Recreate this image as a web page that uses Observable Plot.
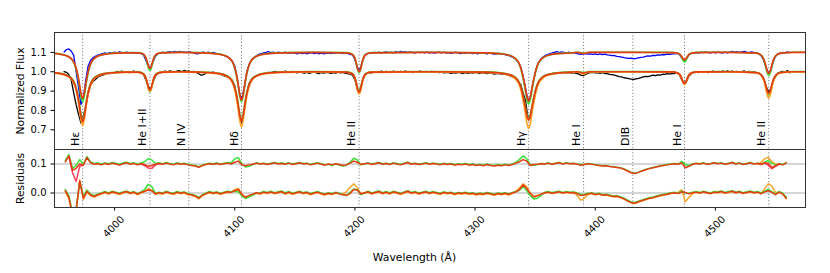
<!DOCTYPE html>
<html><head><meta charset="utf-8">
<script src="https://cdn.jsdelivr.net/npm/d3@7"></script>
<script src="https://cdn.jsdelivr.net/npm/@observablehq/plot@0.6"></script>
<style>
body{margin:0;background:#fff;}
#chart{position:relative;width:830px;height:273px;font-family:"DejaVu Sans",sans-serif;}
#chart svg{display:block;}
</style></head><body><div id="chart"></div>
<script>
// ---------- observed spectra (sampled every 2 Å from 3958 Å) ----------
const obsStart = 3958, obsStep = 2;
const obsLower = [
1.001,0.997,0.985,0.955,0.89,0.83,0.78,0.735,0.77,0.82,
0.885,0.93,0.95,0.96,0.972,0.978,0.983,0.987,0.992,0.990,
0.996,0.993,1.002,0.998,1.003,0.997,1.001,0.995,0.999,1.004,
0.998,0.997,0.993,0.987,0.958,0.925,0.908,0.945,0.978,0.99,
0.994,0.998,1.003,0.999,1.005,1.001,0.997,1.004,1.006,1.0,
1.007,1.002,1.004,0.998,1.002,0.996,0.99,0.982,0.985,0.993,
0.997,0.995,0.998,0.993,0.99,0.986,0.982,0.976,0.974,0.966,
0.955,0.928,0.855,0.77,0.735,0.80,0.885,0.94,0.962,0.972,
0.978,0.983,0.988,0.99,0.993,0.997,0.995,0.999,1.002,0.998,
1.001,0.997,1.003,0.999,0.996,1.002,0.998,0.994,0.999,0.996,
0.993,0.997,0.992,0.995,0.999,0.994,0.99,0.996,0.993,0.997,
0.995,0.991,0.996,0.993,0.998,0.994,0.997,0.992,0.99,0.988,
0.982,0.958,0.91,0.902,0.945,0.978,0.992,0.996,0.994,0.998,
1.001,0.997,1.003,0.998,1.002,0.999,0.996,1.003,1.0,0.997,
1.002,0.998,1.004,0.999,1.001,0.996,1.0,0.998,1.003,0.999,
0.997,1.001,0.998,1.002,0.997,0.999,0.995,0.998,0.994,0.997,
0.995,0.992,0.996,0.993,0.997,0.994,0.991,0.995,0.992,0.996,
0.993,0.997,0.994,0.991,0.995,0.993,0.99,0.994,0.992,0.988,
0.99,0.991,0.988,0.989,0.985,0.982,0.976,0.972,0.962,0.945,
0.935,0.89,0.85,0.765,0.762,0.825,0.885,0.93,0.958,0.97,
0.98,0.984,0.988,0.99,0.993,0.991,0.995,0.993,0.997,0.994,
0.996,0.993,0.995,0.992,0.989,0.983,0.98,0.986,0.993,0.995,
0.997,0.994,0.996,0.992,0.995,0.991,0.99,0.987,0.985,0.982,
0.979,0.975,0.973,0.969,0.967,0.965,0.962,0.96,0.963,0.966,
0.97,0.973,0.976,0.975,0.979,0.982,0.98,0.984,0.983,0.987,
0.986,0.99,0.988,0.992,0.99,0.993,0.985,0.958,0.943,0.95,
0.978,0.99,0.995,0.998,0.996,1.001,0.997,1.0,0.996,0.999,
1.003,0.998,1.002,0.997,1.004,1.0,1.005,0.999,1.003,0.998,
1.002,0.997,1.001,1.004,0.999,1.002,0.997,1.0,0.996,0.992,
0.982,0.962,0.93,0.895,0.91,0.95,0.975,0.993,0.998,1.002,
0.998,1.006,0.995];
const obsUpper = [
1.102,1.115,1.118,1.106,1.085,1.0,0.92,0.83,0.865,0.955,
1.03,1.058,1.072,1.08,1.086,1.09,1.094,1.097,1.094,1.099,
1.096,1.101,1.098,1.103,1.099,1.097,1.102,1.098,1.1,1.096,
1.098,1.097,1.094,1.088,1.06,1.028,1.02,1.052,1.08,1.092,
1.097,1.101,1.098,1.102,1.104,1.1,1.106,1.102,1.105,1.101,
1.103,1.099,1.104,1.1,1.097,1.092,1.094,1.099,1.102,1.098,
1.101,1.097,1.1,1.096,1.093,1.09,1.087,1.082,1.076,1.066,
1.056,1.03,0.97,0.888,0.86,0.925,0.995,1.04,1.062,1.074,
1.082,1.09,1.094,1.097,1.1,1.104,1.099,1.102,1.098,1.101,
1.099,1.096,1.101,1.097,1.095,1.099,1.096,1.093,1.097,1.094,
1.097,1.093,1.096,1.099,1.094,1.097,1.093,1.096,1.092,1.095,
1.097,1.094,1.098,1.095,1.099,1.096,1.094,1.098,1.095,1.09,
1.088,1.062,1.022,1.008,1.048,1.082,1.094,1.098,1.096,1.1,
1.098,1.101,1.097,1.1,1.103,1.099,1.102,1.098,1.104,1.1,
1.106,1.101,1.104,1.099,1.103,1.1,1.097,1.102,1.099,1.101,
1.098,1.101,1.097,1.1,1.096,1.099,1.102,1.098,1.101,1.097,
1.099,1.095,1.098,1.101,1.097,1.094,1.098,1.095,1.099,1.096,
1.094,1.097,1.093,1.096,1.099,1.095,1.092,1.096,1.094,1.091,
1.093,1.095,1.09,1.091,1.086,1.084,1.078,1.073,1.063,1.048,
1.025,0.978,0.915,0.852,0.87,0.932,0.993,1.036,1.06,1.074,
1.082,1.089,1.093,1.097,1.1,1.104,1.099,1.103,1.1,1.097,
1.101,1.097,1.099,1.095,1.093,1.09,1.092,1.094,1.091,1.093,
1.09,1.093,1.089,1.092,1.088,1.091,1.087,1.086,1.083,1.084,
1.08,1.078,1.076,1.073,1.071,1.069,1.07,1.067,1.069,1.072,
1.074,1.076,1.079,1.082,1.081,1.085,1.084,1.087,1.086,1.089,
1.088,1.091,1.09,1.093,1.092,1.095,1.09,1.07,1.058,1.066,
1.088,1.096,1.098,1.1,1.097,1.101,1.099,1.103,1.1,1.097,
1.101,1.098,1.102,1.099,1.097,1.101,1.098,1.102,1.105,1.101,
1.104,1.1,1.103,1.106,1.102,1.099,1.103,1.1,1.097,1.094,
1.083,1.062,1.028,0.993,1.004,1.048,1.08,1.093,1.097,1.1,
1.098,1.103,1.099];

// ---------- model spectra ----------
const modelWave = [
3950,3955.4,3960.4,3963.4,3965.4,3967.4,3968.9,3970.4,3971.9,3973.4,3974.9,3976.4,3977.9,3979.4,3981.4,3983.4,3986.4,3991.4,3998.4,4008.4,
4019.4,4023.4,4025.4,4026.4,4027.4,4028.4,4029.4,4030.4,4031.4,4032.4,4033.4,4035.4,4039.4,
4055,4070.6,
4080.6,4087.6,4092.6,4095.6,4097.6,4099.6,4101.1,4102.6,4104.1,4105.6,4107.1,4108.6,4110.1,4111.6,4113.6,4115.6,4118.6,4123.6,4130.6,4140.6,
4165,
4193.5,4197.5,4199.5,4200.5,4201.5,4202.5,4203.5,4204.5,4205.5,4206.5,4207.5,4209.5,4213.5,
4260,4309.6,
4319.6,4326.6,4331.6,4334.6,4336.6,4338.6,4340.1,4341.6,4343.1,4344.6,4346.1,4347.6,4349.1,4350.6,4352.6,4354.6,4357.6,4362.6,4369.6,4379.6,
4385.3,4388.3,4390.3,4392.3,4395.3,
4430,4464.3,
4468.3,4470.3,4471.3,4472.3,4473.3,4474.3,4475.3,4476.3,4477.3,4478.3,4480.3,4484.3,
4510,4534.4,
4538.4,4540.4,4541.4,4542.4,4543.4,4544.4,4545.4,4546.4,4547.4,4548.4,4550.4,4554.4,
4565,4575];
const modelLowerRed = [
0.994,0.990,0.981,0.969,0.954,0.925,0.889,0.837,0.776,0.742,0.776,0.837,0.889,0.925,0.954,0.969,0.981,0.990,0.995,0.998,
0.998,0.991,0.978,0.962,0.938,0.915,0.905,0.915,0.938,0.962,0.978,0.991,0.998,
1.0,0.998,
0.995,0.990,0.981,0.969,0.954,0.926,0.890,0.839,0.778,0.745,0.778,0.839,0.890,0.926,0.954,0.969,0.981,0.990,0.995,0.998,
1.0,
0.998,0.991,0.976,0.958,0.932,0.906,0.895,0.906,0.932,0.958,0.976,0.991,0.998,
1.0,0.998,
0.994,0.988,0.978,0.963,0.945,0.910,0.870,0.825,0.775,0.750,0.775,0.825,0.870,0.910,0.945,0.963,0.978,0.988,0.994,0.998,
1.0,0.996,0.993,0.996,1.0,
1.0,0.999,
0.995,0.986,0.976,0.961,0.946,0.940,0.946,0.961,0.976,0.986,0.995,0.999,
1.0,0.996,
0.983,0.962,0.942,0.917,0.897,0.888,0.897,0.917,0.942,0.962,0.983,0.996,
1.0,1.0];
const modelLowerGreen = [
0.996,0.991,0.982,0.971,0.956,0.929,0.894,0.844,0.784,0.751,0.784,0.844,0.894,0.929,0.956,0.971,0.982,0.991,0.996,0.999,
0.999,0.992,0.977,0.959,0.933,0.907,0.896,0.907,0.933,0.959,0.977,0.992,0.999,
1.001,0.999,
0.996,0.991,0.982,0.971,0.956,0.929,0.894,0.844,0.784,0.751,0.784,0.844,0.894,0.929,0.956,0.971,0.982,0.991,0.996,0.999,
1.001,
0.999,0.992,0.978,0.961,0.936,0.911,0.901,0.911,0.936,0.961,0.978,0.992,0.999,
1.001,0.999,
0.996,0.989,0.979,0.964,0.947,0.913,0.874,0.829,0.781,0.756,0.781,0.829,0.874,0.913,0.947,0.964,0.979,0.989,0.996,0.999,
1.001,0.998,0.996,0.998,1.001,
1.001,1.0,
0.995,0.986,0.975,0.959,0.943,0.936,0.943,0.959,0.975,0.986,0.995,1.0,
1.001,0.996,
0.983,0.960,0.938,0.911,0.889,0.879,0.889,0.911,0.938,0.960,0.983,0.996,
1.001,1.001];
const modelLowerOrange = [
0.993,0.988,0.978,0.966,0.949,0.918,0.879,0.824,0.757,0.721,0.757,0.824,0.879,0.918,0.949,0.966,0.978,0.988,0.994,0.997,
0.997,0.990,0.976,0.959,0.934,0.909,0.899,0.909,0.934,0.959,0.976,0.990,0.997,
0.999,0.997,
0.993,0.988,0.978,0.965,0.948,0.916,0.876,0.819,0.751,0.714,0.751,0.819,0.876,0.916,0.948,0.965,0.978,0.988,0.993,0.997,
0.999,
0.997,0.989,0.973,0.953,0.924,0.896,0.884,0.896,0.924,0.953,0.973,0.989,0.997,
0.999,0.996,
0.993,0.985,0.973,0.955,0.935,0.894,0.847,0.795,0.736,0.707,0.736,0.795,0.847,0.894,0.935,0.955,0.973,0.985,0.993,0.996,
0.999,0.993,0.987,0.993,0.999,
0.999,0.998,
0.993,0.984,0.973,0.957,0.941,0.934,0.941,0.957,0.973,0.984,0.993,0.998,
0.999,0.994,
0.979,0.953,0.929,0.899,0.875,0.864,0.875,0.899,0.929,0.953,0.979,0.994,
0.999,0.999];
const modelUpperRed = [
1.095,1.090,1.082,1.071,1.057,1.031,0.998,0.950,0.893,0.862,0.893,0.950,0.998,1.031,1.057,1.071,1.082,1.090,1.095,1.098,
1.098,1.093,1.081,1.067,1.046,1.025,1.017,1.025,1.046,1.067,1.081,1.093,1.098,
1.1,1.098,
1.095,1.090,1.081,1.070,1.056,1.028,0.994,0.944,0.885,0.853,0.885,0.944,0.994,1.028,1.056,1.070,1.081,1.090,1.095,1.098,
1.1,
1.098,1.091,1.077,1.060,1.035,1.010,1.000,1.010,1.035,1.060,1.077,1.091,1.098,
1.1,1.098,
1.094,1.088,1.077,1.062,1.045,1.009,0.969,0.924,0.873,0.848,0.873,0.924,0.969,1.009,1.045,1.062,1.077,1.088,1.094,1.097,
1.1,1.097,1.094,1.097,1.1,
1.1,1.099,
1.096,1.091,1.084,1.075,1.065,1.061,1.065,1.075,1.084,1.091,1.096,1.099,
1.1,1.096,
1.084,1.063,1.044,1.020,1.001,0.992,1.001,1.020,1.044,1.063,1.084,1.096,
1.1,1.1];
const modelUpperGreen = [
1.095,1.091,1.082,1.070,1.055,1.027,0.991,0.940,0.878,0.845,0.878,0.940,0.991,1.027,1.055,1.070,1.082,1.091,1.096,1.099,
1.099,1.092,1.079,1.063,1.039,1.016,1.006,1.016,1.039,1.063,1.079,1.092,1.099,
1.101,1.099,
1.096,1.091,1.082,1.070,1.055,1.027,0.991,0.940,0.878,0.845,0.878,0.940,0.991,1.027,1.055,1.070,1.082,1.091,1.096,1.099,
1.101,
1.099,1.092,1.077,1.059,1.033,1.007,0.996,1.007,1.033,1.059,1.077,1.092,1.099,
1.101,1.098,
1.095,1.088,1.077,1.061,1.042,1.004,0.962,0.913,0.860,0.833,0.860,0.913,0.962,1.004,1.042,1.061,1.077,1.088,1.095,1.098,
1.101,1.098,1.096,1.098,1.101,
1.101,1.1,
1.096,1.090,1.081,1.069,1.056,1.051,1.056,1.069,1.081,1.090,1.096,1.1,
1.101,1.096,
1.083,1.060,1.038,1.011,0.990,0.980,0.990,1.011,1.038,1.060,1.083,1.096,
1.101,1.101];

// ---------- residuals (in units of 0.001, sampled every 3 Å from 3959 Å) ----------
const resStart = 3959, resStep = 3;
const resLowerRed = [
8,-15,-75,-60,42,-18,6,-7,-12,-6,-2,
3,-2,4,1,-3,2,5,-1,3,-4,
2,6,10,8,-3,1,-2,4,0,-3,
3,-1,2,-4,-6,-10,-18,-8,-2,3,
-1,2,-3,1,4,2,8,12,-6,-15,
-8,-4,1,-2,3,0,4,-1,2,5,
-2,3,-3,1,4,-1,2,-4,0,3,
-2,-5,-1,-4,1,-3,-6,-8,-2,12,
10,-3,1,4,-2,2,5,-1,3,-2,
4,1,-3,2,6,0,3,-2,1,4,
-1,3,0,-3,2,-1,1,-4,0,-2,
1,-3,-1,-5,-2,-4,0,-3,-6,-2,
-4,-1,-5,0,4,12,28,15,-2,-14,
-10,-4,1,3,-1,2,4,0,3,1,
2,-2,-9,-7,-3,-1,-5,-3,-7,-6,
-9,-12,-11,-15,-20,-27,-33,-35,-30,-26,
-22,-18,-16,-12,-9,-6,-4,-1,1,-2,
4,2,-3,1,3,0,4,1,-2,3,
2,5,0,3,6,1,4,-1,2,5,
1,3,-2,4,8,2,-6,3,-3,-18];
const resLowerGreen = [
12,-10,-70,-55,38,-12,10,-4,-9,-3,0,
5,0,6,3,-1,4,6,1,5,-2,
4,12,30,22,-1,3,0,6,2,-1,
5,1,4,-2,-4,-8,-15,-6,0,5,
1,4,-1,3,6,4,6,4,-10,-19,
-14,-7,-1,0,5,2,6,1,4,7,
0,5,-1,3,6,1,4,-2,2,5,
0,-3,1,-2,3,-1,-5,-9,2,14,
11,-5,0,6,0,4,7,1,5,0,
6,3,-1,4,8,2,5,0,3,6,
1,5,2,-1,4,1,3,-2,2,0,
3,-1,1,-3,0,-2,2,-1,-4,0,
-2,1,-3,2,5,10,22,8,-10,-21,
-18,-8,3,5,1,4,6,2,5,3,
4,0,-5,-4,-1,1,-3,-1,-5,-4,
-7,-10,-9,-13,-18,-25,-31,-33,-28,-24,
-20,-16,-14,-10,-7,-4,-2,1,3,0,
6,0,-1,3,5,2,6,3,0,5,
4,7,2,5,8,3,6,1,4,7,
3,5,0,6,12,5,-3,5,-1,-15];
const resLowerOrange = [
5,-20,-80,-65,45,-22,3,-9,-14,-8,-4,
1,-4,2,-1,-5,0,3,-3,1,-6,
0,5,15,10,-5,-1,-4,2,-2,-5,
1,-3,0,-6,-8,-12,-20,-10,-4,1,
-3,0,-5,-1,2,3,12,16,-4,-14,
-10,-6,-1,-4,1,-2,2,-3,0,3,
-4,1,-5,-1,2,-3,0,-6,-2,1,
-4,-7,-3,-5,0,-2,-3,5,20,32,
18,-2,-1,2,-4,0,3,-3,1,-4,
2,-1,-5,0,4,-2,1,-4,-1,2,
-3,1,-2,-5,0,-3,-1,-6,-2,-4,
-1,-5,-3,-7,-4,-6,-2,-5,-8,-4,
-6,-3,-7,-1,6,18,32,22,0,-12,
-8,-5,0,2,-2,1,3,-1,2,0,
1,-8,-25,-18,-5,-2,-6,-4,-8,-7,
-10,-13,-12,-16,-21,-28,-34,-36,-31,-27,
-23,-19,-17,-13,-10,-7,-5,-2,0,2,
12,-30,-15,-3,2,-1,3,0,-3,2,
1,4,-1,2,5,0,3,-2,1,4,
0,2,-3,15,32,24,2,2,-4,-20];
const resUpperRed = [
107,128,78,85,100,96,122,104,99,101,97,
102,98,103,100,96,101,104,99,102,97,
101,98,92,95,99,102,99,103,100,97,
102,99,101,97,95,93,89,94,98,101,
99,102,98,101,103,100,106,110,97,94,
97,99,103,100,102,98,101,104,100,102,
99,103,98,101,104,100,102,97,100,103,
99,96,100,97,101,98,95,97,103,110,
106,99,101,103,98,101,104,99,102,98,
103,100,97,101,105,99,102,98,100,103,
99,102,100,97,101,98,100,96,99,97,
100,96,98,95,97,94,98,95,93,96,
94,97,95,98,103,108,115,110,95,98,
99,101,100,103,99,102,104,100,103,101,
102,99,96,98,101,99,97,95,93,94,
91,90,88,86,82,76,70,67,71,76,
80,84,87,90,93,95,97,99,101,99,
104,87,92,99,102,100,103,99,101,104,
101,103,99,102,105,100,103,98,101,104,
100,102,98,104,102,88,94,100,97,104];
const resUpperGreen = [
112,132,85,95,115,100,126,107,102,104,100,
104,101,105,103,99,104,106,102,104,100,
104,108,118,114,102,104,101,105,102,99,
104,101,103,99,97,95,91,96,100,103,
101,104,100,103,105,104,118,122,100,90,
92,98,104,101,103,100,103,105,102,104,
101,104,100,103,105,102,103,99,102,104,
101,97,99,95,100,96,93,96,106,120,
114,97,100,104,100,103,105,101,103,100,
104,102,99,103,106,101,103,100,102,104,
101,103,102,99,103,100,102,98,101,99,
102,98,100,97,99,96,100,97,95,98,
96,99,97,100,106,116,128,118,97,96,
98,102,101,104,100,103,105,101,104,102,
103,100,98,99,102,100,98,96,94,95,
92,91,89,87,83,77,71,68,72,77,
81,85,88,91,94,96,98,100,102,100,
109,98,95,100,103,101,104,100,102,105,
102,104,100,103,106,101,104,99,102,105,
101,103,99,106,112,102,97,101,98,105];
// short stretches where further fits depart visibly (upper residual track)
const resUpperPinkWave  = [3962,3965,3968,3971,3974, 4022,4025,4028,4031,4034,4037, 4538,4541,4544,4547,4550,4553];
const resUpperPinkValue = [125,70,40,92,96, 100,95,86,85,97,101, 100,103,96,84,92,100];
const resUpperPinkPart  = [1,1,1,1,1, 2,2,2,2,2,2, 3,3,3,3,3,3];
const resUpperOrangeWave  = [4535,4538,4541,4544,4547,4550,4553];
const resUpperOrangeValue = [100,106,118,123,108,100,99];

// ---------- annotations & ticks ----------
const lineWave  = [3973.4, 4029.4, 4061.8, 4105.6, 4203.5, 4344.6, 4390.3, 4431.3, 4474.3, 4544.4];
const lineNames = ["Hε", "He I+II", "N IV", "Hδ", "He II", "Hγ", "He I", "DIB", "He I", "He II"];
const fluxTicks = [0.7, 0.8, 0.9, 1.0, 1.1];
const resTicks  = [0.0, 0.1];
const waveTicks = [4000, 4100, 4200, 4300, 4400, 4500];
const fluxLabel = ["Normalized Flux"];
const resLabel  = ["Residuals"];
const waveLabel = ["Wavelength (Å)"];

// ---------- tables ----------
const obsTable = vals => vals.map((v, i) => ({w: obsStart + i * obsStep, v}));
const modelTable = vals => vals.map((v, i) => ({w: modelWave[i], v}));
const resTable = vals => vals.map((v, i) => ({w: resStart + i * resStep, v: v / 1000}));
const pinkTable = resUpperPinkWave.map((w, i) => ({w, v: resUpperPinkValue[i] / 1000, part: resUpperPinkPart[i]}));
const orangeUpTable = resUpperOrangeWave.map((w, i) => ({w, v: resUpperOrangeValue[i] / 1000}));
const labelTable = lineWave.map((w, i) => ({w, name: lineNames[i]}));

const C = {blue: "#0000ff", black: "#000000", green: "#3ae23a", orange: "#ffa62b", red: "#e63b12", pink: "#ff3d5e"};
const xDomain = [3950, 4575];
const plotStyle = {fontFamily: "DejaVu Sans, sans-serif", fontSize: "10px", color: "#000", background: "#fff", overflow: "visible"};
const dotted = {stroke: "#808080", strokeWidth: 1, strokeDasharray: "1.2,2"};
const mline = (vals, stroke) => Plot.line(modelTable(vals), {x: "w", y: "v", stroke, strokeWidth: 1.7, curve: "monotone-x", clip: true});
const rline = (data, stroke, extra = {}) => Plot.line(data, {x: "w", y: "v", stroke, strokeWidth: 1.5, clip: true, ...extra});
const yTitle = lab => Plot.text(lab, {text: d => d, frameAnchor: "left", rotate: -90, textAnchor: "middle", lineAnchor: "top", dx: -38, fontSize: 10.8, fill: "#000"});

const fluxPlot = Plot.plot({
  width: 830, height: 149, marginTop: 32, marginBottom: 0, marginLeft: 54, marginRight: 25,
  style: plotStyle,
  x: {domain: xDomain, axis: null},
  y: {domain: [0.598, 1.203]},
  marks: [
    Plot.ruleX(lineWave, dotted),
    Plot.line(obsTable(obsUpper), {x: "w", y: "v", stroke: C.blue, strokeWidth: 1.3, clip: true}),
    Plot.line(obsTable(obsLower), {x: "w", y: "v", stroke: C.black, strokeWidth: 1.3, clip: true}),
    mline(modelUpperGreen, C.green),
    mline(modelUpperRed, C.red),
    mline(modelLowerGreen, C.green),
    mline(modelLowerOrange, C.orange),
    mline(modelLowerRed, C.red),
    Plot.text(labelTable, {x: "w", text: "name", frameAnchor: "bottom", rotate: -90, textAnchor: "start", lineAnchor: "bottom", dx: -3.8, dy: -3.5, fontSize: 11, fill: "#000"}),
    Plot.axisY(fluxTicks, {tickFormat: d => d.toFixed(1), tickSize: 3.5, tickPadding: 4.5, fontSize: 10, label: null}),
    yTitle(fluxLabel),
    Plot.frame({stroke: "#333", strokeWidth: 1})
  ]
});

const residPlot = Plot.plot({
  width: 830, height: 124, marginTop: 0, marginBottom: 66, marginLeft: 54, marginRight: 25,
  style: plotStyle,
  x: {domain: xDomain},
  y: {domain: [-0.05, 0.15]},
  marks: [
    Plot.ruleY(resTicks, {stroke: "#c8c8c8", strokeWidth: 1.5}),
    Plot.ruleX(lineWave, dotted),
    rline(resTable(resLowerOrange), C.orange),
    rline(resTable(resLowerGreen), C.green),
    rline(resTable(resLowerRed), C.red),
    rline(orangeUpTable, C.orange),
    rline(resTable(resUpperGreen), C.green),
    rline(pinkTable, C.pink, {z: "part"}),
    rline(resTable(resUpperRed), C.red),
    Plot.axisY(resTicks, {tickFormat: d => d.toFixed(1), tickSize: 3.5, tickPadding: 4.5, fontSize: 10, label: null}),
    yTitle(resLabel),
    Plot.axisX(waveTicks, {tickSize: 3.5, tickFormat: () => "", label: null}),
    Plot.text(waveTicks, {x: d => d, text: d => String(d), frameAnchor: "bottom", dx: 1.5, dy: 21.5, rotate: -45, fontSize: 10, fill: "#000"}),
    Plot.text(waveLabel, {text: d => d, frameAnchor: "bottom", textAnchor: "middle", lineAnchor: "middle", dx: -15.5, dy: 50.5, fontSize: 10.8, fill: "#000"}),
    Plot.frame({stroke: "#333", strokeWidth: 1})
  ]
});

const root = document.getElementById("chart");
root.appendChild(fluxPlot);
root.appendChild(residPlot);
</script></body></html>
